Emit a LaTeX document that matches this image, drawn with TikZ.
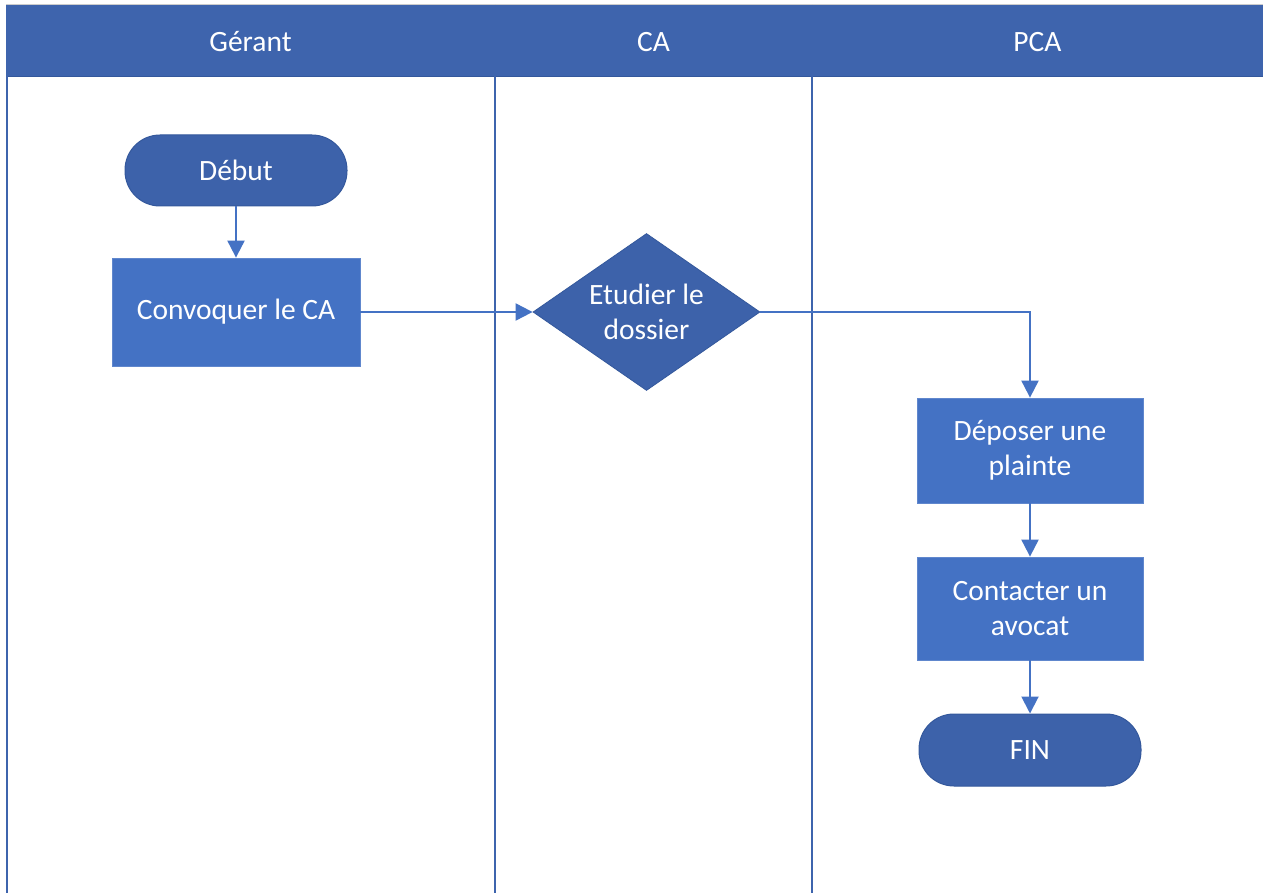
\documentclass[tikz,border=0pt]{standalone}
\usepackage{fontspec}
\setmainfont{Carlito}
\usetikzlibrary{arrows.meta,shapes.geometric}
\definecolor{headblue}{HTML}{3E64AD}
\definecolor{boxblue}{HTML}{4472C4}
\definecolor{darkblue}{HTML}{3D62AA}
\definecolor{edgeblue}{HTML}{34589C}
\tikzset{
  lbl/.style={text=white, font=\fontsize{29.5}{35}\selectfont, align=center},
  processbox/.style={lbl, rectangle, fill=boxblue, draw=boxblue!85!white, line width=0.8pt,
    minimum width=#1, inner sep=0pt},
  terminal/.style={lbl, rectangle, rounded corners=35pt, fill=darkblue, draw=edgeblue,
    line width=1pt, inner sep=0pt},
  decision/.style={lbl, diamond, fill=darkblue, draw=edgeblue, line width=0.8pt,
    inner sep=0pt, aspect=1.45},
  lane/.style={draw=headblue, line width=1.8pt},
  flow/.style={draw=boxblue, line width=2pt, -{Triangle[length=17pt,width=17pt]}},
  headtext/.style={lbl}
}
\begin{document}
\begin{tikzpicture}[x=1pt,y=-1pt]
  \useasboundingbox (0,0) rectangle (1263,893);
  \fill[white] (0,0) rectangle (1263,893);

  % swimlane header band and lane borders
  \draw[draw=gray!40, line width=0.8pt] (6,4.5) -- (1263,4.5);
  \fill[headblue] (6,5) rectangle (1263,77);
  \draw[draw=edgeblue, line width=1pt] (6,77) -- (1263,77);
  \draw[lane] (7,5) -- (7,893);
  \draw[lane] (495,5) -- (495,893);
  \draw[lane] (812,5) -- (812,893);

  \node[headtext] (hGerant) at (250.5,42) {Gérant};
  \node[headtext] (hCA) at (653.5,42) {CA};
  \node[headtext] (hPCA) at (1037.5,42) {PCA};

  % flow nodes
  \node[terminal, minimum width=222pt, minimum height=71pt] (debut) at (236,170.5) {Début};
  \node[processbox=248pt, minimum height=108pt] (convoquer) at (236,312) {Convoquer le CA};
  \node[decision, minimum width=227pt, minimum height=157pt] (etudier) at (646.5,312)
    {Etudier le\\dossier};
  \node[processbox=226pt, minimum height=105pt] (deposer) at (1030,450.5)
    {Déposer une\\plainte};
  \node[processbox=226pt, minimum height=103pt] (contacter) at (1030,608.5)
    {Contacter un\\avocat};
  \node[terminal, minimum width=222pt, minimum height=72pt] (fin) at (1030,750) {FIN};

  % connectors
  \draw[flow] (debut.south) -- (convoquer.north);
  \draw[flow] (convoquer.east) -- (etudier.west);
  \draw[flow] (etudier.east) -| (deposer.north);
  \draw[flow] (deposer.south) -- (contacter.north);
  \draw[flow] (contacter.south) -- (fin.north);
\end{tikzpicture}
\end{document}
